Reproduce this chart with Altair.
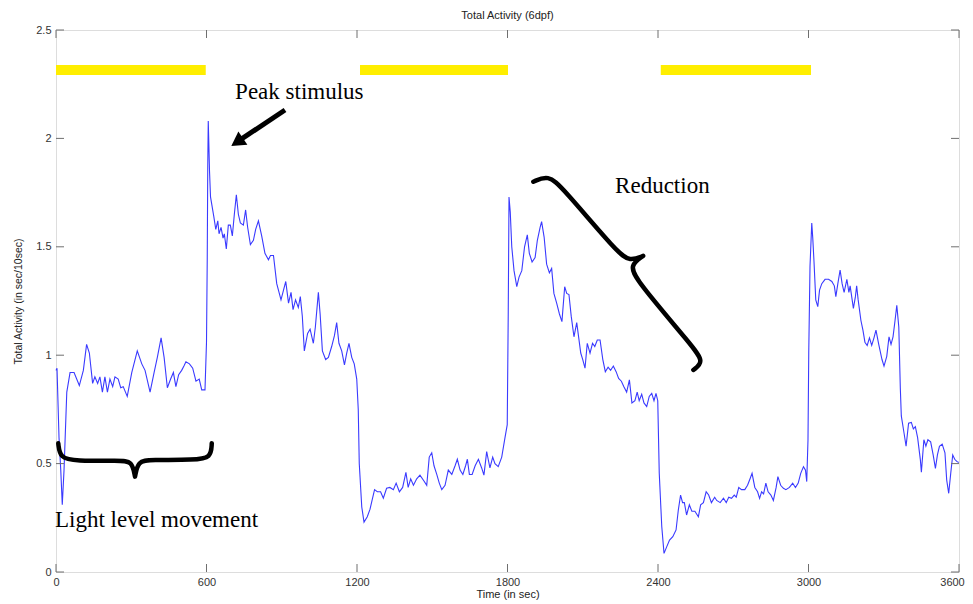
import altair as alt
import pandas as pd

# ---- main series (time in sec, total activity) ----
time_s = [0, 4, 12, 19, 25, 32, 43, 56, 72, 93, 109, 122, 133, 146, 155, 166, 175, 185, 195, 205,
          215, 226, 235, 248, 258, 268, 284, 302, 324, 342, 355, 375, 391, 404, 419, 431, 444, 457,
          468, 478, 489, 501, 510, 518, 532, 545, 558, 571, 581, 594,
          600, 603, 605, 607, 609, 612, 616, 629, 637, 645, 650, 658, 666, 671, 679, 687, 695, 703,
          711, 719, 727, 735, 747, 756, 764, 775, 787, 796, 807, 820, 833, 847, 855, 867, 880, 897,
          907, 916, 927, 937, 945, 955, 966, 974, 982, 990, 1003, 1013, 1026, 1034, 1046, 1053,
          1062, 1075, 1086, 1099, 1110, 1119, 1128, 1139, 1150, 1159, 1168, 1179, 1189, 1199,
          1205, 1209, 1219, 1228,
          1241, 1252, 1260, 1270, 1281, 1294, 1305, 1318, 1331, 1345, 1356, 1369, 1382, 1395, 1404,
          1414, 1425, 1438, 1451, 1467, 1478, 1488, 1498, 1507, 1518, 1528, 1538, 1551, 1564, 1578,
          1591, 1600, 1611, 1622, 1633, 1640, 1648, 1659, 1671, 1684, 1697, 1706, 1717, 1723, 1730,
          1741, 1750, 1763, 1777, 1790, 1799, 1803, 1806,
          1811, 1817, 1826, 1837, 1846, 1857, 1868, 1879, 1887, 1898, 1910, 1919, 1930, 1936, 1946,
          1956, 1967, 1976, 1985, 1996, 2007, 2017, 2028, 2036, 2045, 2054, 2065, 2076, 2084, 2092,
          2100, 2109, 2118, 2129, 2139, 2148, 2158, 2169, 2180, 2190, 2201, 2211, 2222, 2233, 2243,
          2254, 2264, 2275, 2286, 2296, 2308, 2317, 2325, 2335, 2344, 2355, 2365, 2375, 2384, 2392,
          2399, 2405, 2415, 2424,
          2435, 2446, 2459, 2472, 2481, 2490, 2498, 2505, 2514, 2525, 2535, 2547, 2561, 2570, 2581,
          2592, 2602, 2613, 2626, 2634, 2648, 2661, 2672, 2682, 2693, 2704, 2712, 2722, 2733, 2746,
          2757, 2767, 2775, 2786, 2797, 2805, 2813, 2821, 2830, 2839, 2850, 2860, 2871, 2878, 2889,
          2900, 2910, 2924, 2937, 2948, 2959, 2969, 2980, 2988, 2993, 2998, 3001, 3006, 3013, 3017,
          3022, 3029, 3037, 3044, 3053, 3066, 3080, 3093, 3103, 3109, 3117, 3126, 3134, 3142, 3153,
          3161, 3166, 3179, 3187, 3192, 3198, 3209, 3217, 3225, 3234, 3243, 3252, 3261, 3269, 3280,
          3293, 3301, 3312, 3321, 3329, 3337, 3345, 3352, 3360, 3366, 3370, 3381, 3389, 3399, 3410,
          3418, 3426, 3435, 3446, 3450, 3460, 3468, 3476, 3487, 3497, 3506, 3514, 3522, 3533, 3544,
          3551, 3559, 3567, 3575, 3583, 3591, 3599]

activity = [0.93, 0.94, 0.62, 0.47, 0.31, 0.47, 0.83, 0.92, 0.92, 0.86, 0.93, 1.05, 1.01, 0.87, 0.90,
            0.87, 0.90, 0.83, 0.90, 0.83, 0.89, 0.855, 0.90, 0.89, 0.85, 0.855, 0.81, 0.92, 1.02, 0.96,
            0.93, 0.83, 0.92, 0.99, 1.08, 0.99, 0.85, 0.89, 0.92, 0.855, 0.91, 0.93, 0.95, 0.97, 0.96,
            0.94, 0.88, 0.89, 0.84, 0.84,
            1.06, 1.45, 1.87, 2.08, 1.99, 1.85, 1.73, 1.64, 1.58, 1.62, 1.56, 1.59, 1.54, 1.56, 1.49,
            1.60, 1.60, 1.55, 1.65, 1.74, 1.65, 1.61, 1.60, 1.67, 1.59, 1.51, 1.53, 1.58, 1.62, 1.55,
            1.47, 1.44, 1.46, 1.46, 1.33, 1.255, 1.30, 1.34, 1.24, 1.29, 1.21, 1.255, 1.22, 1.27, 1.18,
            1.02, 1.10, 1.12, 1.055, 1.13, 1.29, 1.19, 1.02, 0.98, 0.99, 1.04, 1.09, 1.15, 1.055, 1.02,
            0.955, 1.01, 1.055, 0.99, 0.96, 0.89, 0.75, 0.50, 0.30, 0.23,
            0.255, 0.29, 0.33, 0.38, 0.37, 0.37, 0.34, 0.386, 0.39, 0.38, 0.41, 0.37, 0.39, 0.46, 0.39,
            0.43, 0.40, 0.43, 0.447, 0.42, 0.40, 0.53, 0.55, 0.49, 0.45, 0.41, 0.38, 0.40, 0.47, 0.45,
            0.49, 0.52, 0.47, 0.45, 0.49, 0.52, 0.45, 0.45, 0.49, 0.52, 0.48, 0.447, 0.555, 0.52, 0.48,
            0.53, 0.50, 0.486, 0.53, 0.62, 0.68, 1.20, 1.73,
            1.66, 1.50, 1.39, 1.316, 1.36, 1.39, 1.50, 1.555, 1.47, 1.43, 1.45, 1.53, 1.59, 1.616, 1.545,
            1.42, 1.38, 1.40, 1.285, 1.24, 1.19, 1.155, 1.316, 1.285, 1.28, 1.18, 1.085, 1.15, 1.08, 1.01,
            0.98, 0.94, 1.055, 1.01, 1.055, 1.04, 1.07, 1.07, 0.98, 0.924, 0.945, 0.93, 0.95, 0.924, 0.893,
            0.88, 0.855, 0.83, 0.886, 0.78, 0.79, 0.83, 0.79, 0.82, 0.78, 0.763, 0.81, 0.824, 0.79, 0.824,
            0.79, 0.455, 0.21, 0.086,
            0.117, 0.147, 0.163, 0.194, 0.286, 0.355, 0.32, 0.32, 0.263, 0.31, 0.28, 0.28, 0.255, 0.31, 0.32,
            0.37, 0.355, 0.32, 0.345, 0.33, 0.32, 0.34, 0.32, 0.345, 0.34, 0.355, 0.345, 0.39, 0.38, 0.38,
            0.40, 0.43, 0.455, 0.39, 0.37, 0.34, 0.37, 0.36, 0.41, 0.37, 0.355, 0.33, 0.39, 0.44, 0.40,
            0.386, 0.38, 0.39, 0.41, 0.39, 0.41, 0.455, 0.486, 0.47, 0.417, 0.61, 1.01, 1.41, 1.61, 1.54,
            1.43, 1.255, 1.224, 1.30, 1.33, 1.35, 1.35, 1.34, 1.32, 1.27, 1.33, 1.393, 1.33, 1.29, 1.35,
            1.29, 1.32, 1.216, 1.27, 1.32, 1.255, 1.16, 1.116, 1.06, 1.045, 1.08, 1.045, 1.08, 1.116, 1.05,
            0.98, 0.95, 0.995, 1.085, 1.05, 1.085, 1.16, 1.23, 1.13, 0.85, 0.72, 0.64, 0.58, 0.686, 0.69,
            0.66, 0.67, 0.62, 0.517, 0.46, 0.61, 0.58, 0.61, 0.60, 0.54, 0.478, 0.54, 0.58, 0.59, 0.55,
            0.424, 0.363, 0.455, 0.54, 0.52, 0.51, 0.505]

# ---- light-on periods (yellow bars) ----
light_start = [0, 1212, 2411]
light_end = [597, 1802, 3010]
light_level = [2.315, 2.315, 2.315]

# ---- axes ----
x_ticks = [0, 600, 1200, 1800, 2400, 3000, 3600]
y_ticks = [0, 0.5, 1, 1.5, 2, 2.5]
chart_title = "Total Activity (6dpf)"
x_title = "Time (in sec)"
y_title = "Total Activity (in sec/10sec)"

# ---- annotations (data coordinates) ----
ann_text = ["Peak stimulus", "Reduction", "Light level movement"]
ann_x = [714, 2229, -4]
ann_y = [2.214, 1.780, 0.240]

arrow_tail = (913, 2.131)
arrow_shaft_end = (734, 1.993)
arrow_head = (722, 1.983)

# brace control points (cusp repeated to keep it sharp)
reduction_brace_x = [1903, 1962, 2017, 2240, 2288, 2341, 2341, 2341, 2288, 2312, 2540, 2583, 2541]
reduction_brace_y = [1.800, 1.831, 1.776, 1.471, 1.434, 1.458, 1.458, 1.458, 1.416, 1.347, 1.038, 0.969, 0.932]

light_brace_x = [9, 16, 76, 255, 303, 315, 315, 315, 327, 375, 554, 618, 621]
light_brace_y = [0.594, 0.526, 0.512, 0.513, 0.512, 0.440, 0.440, 0.440, 0.512, 0.517, 0.517, 0.526, 0.594]

W, H = 903, 542
GRAY = "#6f6f6f"

xs = alt.Scale(domain=[0, 3600], nice=False, zero=False)
ys = alt.Scale(domain=[0, 2.5], nice=False, zero=False)

main_df = pd.DataFrame({"t": time_s, "v": activity})
bars_df = pd.DataFrame({"s": light_start, "e": light_end, "y": light_level})
xt_df = pd.DataFrame({"t": x_ticks})
yt_df = pd.DataFrame({"v": y_ticks})
ann_df = pd.DataFrame({"label": ann_text, "t": ann_x, "v": ann_y})
arrow_df = pd.DataFrame({"t": [arrow_tail[0]], "v": [arrow_tail[1]],
                         "t2": [arrow_shaft_end[0]], "v2": [arrow_shaft_end[1]]})
head_df = pd.DataFrame({"t": [arrow_head[0]], "v": [arrow_head[1]]})
rb_df = pd.DataFrame({"t": reduction_brace_x, "v": reduction_brace_y, "i": range(len(reduction_brace_x))})
lb_df = pd.DataFrame({"t": light_brace_x, "v": light_brace_y, "i": range(len(light_brace_x))})

last_x = x_ticks[-1]

line = alt.Chart(main_df).mark_line(color="#3a3aff", strokeWidth=1.1).encode(
    x=alt.X("t:Q", scale=xs, title=x_title,
            axis=alt.Axis(values=x_ticks, format="d", ticks=False, tickSize=0, domain=False,
                          grid=False, labelFlush=False, labelPadding=4, titlePadding=1,
                          labelOffset={"condition": {"test": f"datum.value === {last_x}", "value": -7},
                                       "value": 0},
                          labelFontSize=11, labelColor="#333",
                          titleFontSize=11, titleFontWeight="normal", titleColor="#222",
                          labelFont="Liberation Sans", titleFont="Liberation Sans")),
    y=alt.Y("v:Q", scale=ys, title=y_title,
            axis=alt.Axis(values=y_ticks, format="~g", ticks=False, tickSize=0, domain=False,
                          grid=False, labelFlush=False, labelPadding=5, titlePadding=12,
                          labelFontSize=11, labelColor="#333", titleFontSize=10.5,
                          titleFontWeight="normal", titleColor="#222",
                          labelFont="Liberation Sans", titleFont="Liberation Sans")),
)

bars = alt.Chart(bars_df).mark_rule(color="#ffee00", strokeWidth=10, strokeCap="butt").encode(
    x=alt.X("s:Q", scale=xs), x2="e:Q", y=alt.Y("y:Q", scale=ys))

tick_bottom = alt.Chart(xt_df).mark_rule(color=GRAY, strokeWidth=1).encode(
    x=alt.X("t:Q", scale=xs), y=alt.value(H), y2=alt.value(H - 8))
tick_top = alt.Chart(xt_df).mark_rule(color=GRAY, strokeWidth=1).encode(
    x=alt.X("t:Q", scale=xs), y=alt.value(0), y2=alt.value(8))
tick_left = alt.Chart(yt_df).mark_rule(color=GRAY, strokeWidth=1).encode(
    y=alt.Y("v:Q", scale=ys), x=alt.value(0), x2=alt.value(8))
tick_right = alt.Chart(yt_df).mark_rule(color=GRAY, strokeWidth=1).encode(
    y=alt.Y("v:Q", scale=ys), x=alt.value(W - 8), x2=alt.value(W))

brace_r = alt.Chart(rb_df).mark_line(color="black", strokeWidth=4.5, strokeCap="round",
                                     strokeJoin="round", interpolate="basis").encode(
    x=alt.X("t:Q", scale=xs), y=alt.Y("v:Q", scale=ys), order="i:Q")
brace_l = alt.Chart(lb_df).mark_line(color="black", strokeWidth=4.5, strokeCap="round",
                                     strokeJoin="round", interpolate="basis").encode(
    x=alt.X("t:Q", scale=xs), y=alt.Y("v:Q", scale=ys), order="i:Q")

shaft = alt.Chart(arrow_df).mark_rule(color="black", strokeWidth=5, strokeCap="butt").encode(
    x=alt.X("t:Q", scale=xs), y=alt.Y("v:Q", scale=ys), x2="t2:Q", y2="v2:Q")
head = alt.Chart(head_df).mark_point(shape="triangle-up", filled=True, color="black",
                                     opacity=1, size=260, angle=236).encode(
    x=alt.X("t:Q", scale=xs), y=alt.Y("v:Q", scale=ys))

texts = alt.Chart(ann_df).mark_text(align="left", baseline="middle", font="Liberation Serif",
                                    fontSize=23, color="black").encode(
    x=alt.X("t:Q", scale=xs), y=alt.Y("v:Q", scale=ys), text="label:N")

chart = alt.layer(bars, line, tick_bottom, tick_top, tick_left, tick_right,
                  brace_l, brace_r, shaft, head, texts).properties(
    width=W, height=H,
    title=alt.TitleParams(chart_title, fontSize=11, fontWeight="normal", font="Liberation Sans",
                          color="#222", offset=3, anchor="middle"),
    autosize=alt.AutoSizeParams(type="none"),
    padding={"left": 48, "top": 22, "right": 6, "bottom": 31},
).configure_view(stroke=GRAY, strokeWidth=1).configure(background="white")

chart.save("out.html", embed_options={"renderer": "svg", "actions": False})
